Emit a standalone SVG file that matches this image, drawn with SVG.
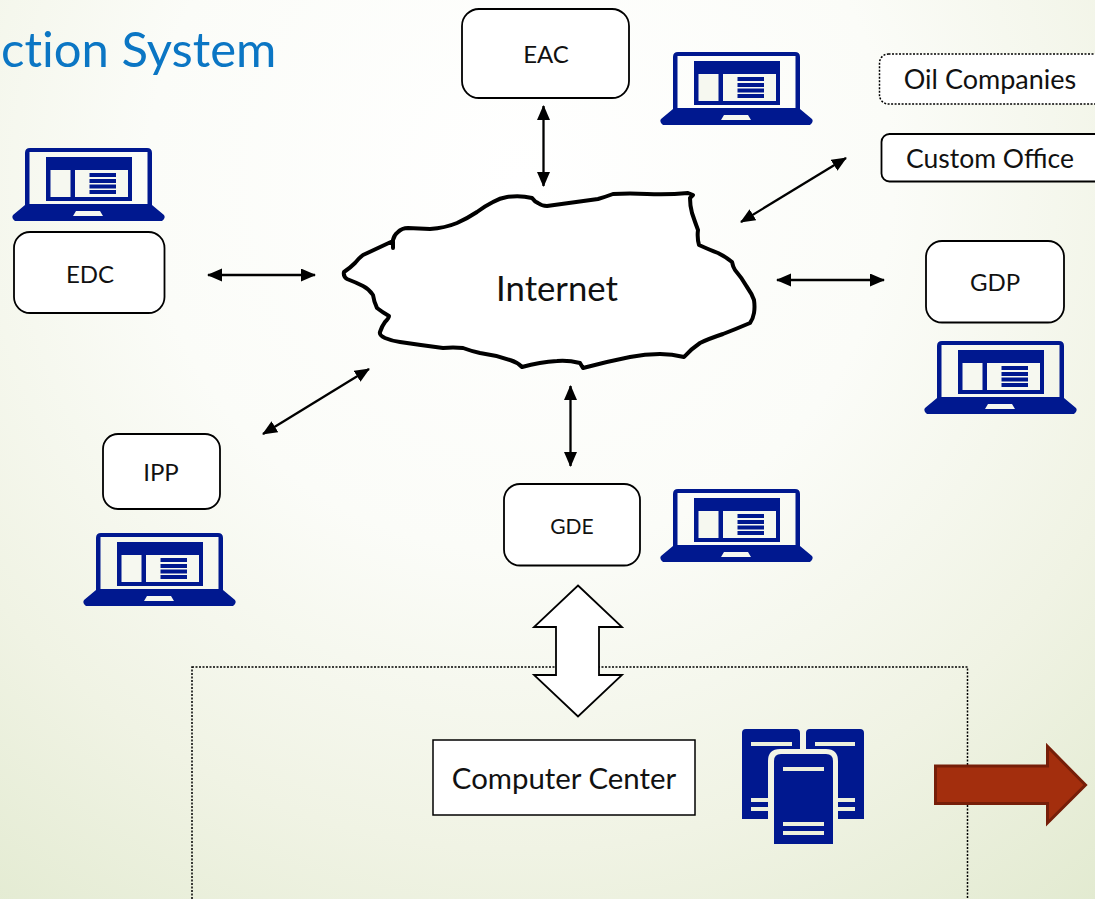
<svg xmlns="http://www.w3.org/2000/svg" width="1095" height="899" viewBox="0 0 1095 899">
<style>
text{font-family:"Lato","Open Sans","Liberation Sans",sans-serif;fill:#111;text-anchor:middle}
.box{fill:#fff;stroke:#000;stroke-width:1.8}
.dot{stroke-dasharray:2 1.500;stroke-width:1.500}
.con{fill:none;stroke:#000;stroke-width:2.300;marker-start:url(#ah);marker-end:url(#ah)}
.ic{fill:#00188f}
</style>
<defs>
<radialGradient id="bg" gradientUnits="userSpaceOnUse" cx="520" cy="180" r="930">
<stop offset="0" stop-color="#fff"/><stop offset="0.4" stop-color="#fbfcf8"/><stop offset="0.72" stop-color="#f0f3e4"/><stop offset="1" stop-color="#e2ead0"/>
</radialGradient>
<marker id="ah" markerUnits="userSpaceOnUse" markerWidth="16" markerHeight="14" refX="14" refY="6.500" orient="auto-start-reverse"><path d="M0 0L15 6.500L0 13Z" fill="#000"/></marker>
<symbol id="laptop" width="153" height="74" viewBox="0 0 153 74" overflow="visible">
<path class="ic" fill-rule="evenodd" d="M13 58V6Q13 1 18 1H135Q140 1 140 6V58L152 68Q154 71 150 74H3Q-1 71 1 68ZM17.500 5V57H135.500V5Z"/>
<path class="ic" d="M34 10H120V54H34Z"/>
<path fill="#f6f8f0" d="M38.500 23H58.500V50H38.500ZM63 23H116V50H63Z"/>
<path class="ic" d="M77.500 26H104V30H77.500ZM77.500 32H104V36H77.500ZM77.500 37.500H104V41.500H77.500ZM77.500 43H104V47H77.500Z"/>
<path fill="#f6f8f0" d="M64 64H88L91 69H61Z"/>
</symbol>
</defs>
<rect width="1095" height="899" fill="url(#bg)"/>
<text id="title" x="1" y="67" font-size="49" style="text-anchor:start;fill:#0b76c4;font-variant-ligatures:none">ction System</text>

<g id="computer-center-zone"><rect x="192" y="667" width="775.500" height="240" fill="none" stroke="#000" stroke-width="1.500" stroke-dasharray="2 1.500"/></g>

<g id="connectors">
<path class="con" d="M543.500 106V186"/>
<path class="con" d="M846 158L741 222"/>
<path class="con" d="M208 275H315"/>
<path class="con" d="M777 280H884"/>
<path class="con" d="M369 369L263 434"/>
<path class="con" d="M570.500 386V466"/>
</g>

<g id="internet">
<path fill="#fff" stroke="#000" stroke-width="4" stroke-linejoin="round" stroke-linecap="round" d="M393 248L393 240Q394 235 398 232Q402 228 408 228L430 229Q445 228 457 223Q468 218 477 212Q485 206 493 202Q500 198 507 197Q520 195 532 198Q535 202 538 203Q542 206 547 206L598 199Q605 197 613 194Q630 193 647 194Q668 195 688 193L693 195L690 198Q690 206 692 213Q695 222 698 230Q697 238 699 245Q710 250 718 253Q726 257 732 262Q733 267 735 270Q742 278 747 287Q752 294 754 300Q755 307 754 313Q753 319 750 323Q736 329 723 334Q708 339 700 343Q691 349 684 357Q672 354 660 354Q645 354 630 357Q605 362 583 368L580 363Q568 360 557 361Q540 362 522 367Q517 362 510 360Q495 355 480 353Q471 351 463 348Q453 347 443 348Q420 345 400 342Q392 341 385 338Q379 335 380 332Q382 326 385 322Q389 318 389 316Q382 312 377 308Q374 302 373 295Q369 289 363 286Q355 282 347 279Q343 276 344 272Q350 268 355 263Q359 258 363 255Q378 248 393 241"/>
<text x="557" y="301" font-size="34.700">Internet</text>
</g>

<g id="eac"><rect class="box" x="462" y="9" width="167" height="89" rx="17"/><text x="546" y="63" font-size="24">EAC</text></g>
<g id="eac-laptop"><use href="#laptop" x="660" y="51"/></g>
<g id="oil"><rect class="box dot" x="879.500" y="54" width="230" height="50" rx="9"/><text x="990" y="89" font-size="27">Oil Companies</text></g>
<g id="custom"><rect class="box" x="881.500" y="134" width="230" height="47.500" rx="8"/><text x="990" y="168" font-size="26.500">Custom Office</text></g>
<g id="edc"><rect class="box" x="14" y="232" width="150.500" height="81" rx="16"/><text x="90" y="283" font-size="24">EDC</text></g>
<g id="edc-laptop"><use href="#laptop" x="12" y="147"/></g>
<g id="gdp"><rect class="box" x="926" y="241" width="138" height="81.500" rx="16"/><text x="995" y="291" font-size="24">GDP</text></g>
<g id="gdp-laptop"><use href="#laptop" x="924" y="340"/></g>
<g id="ipp"><rect class="box" x="103" y="434" width="117" height="75" rx="15"/><text x="161" y="481" font-size="24">IPP</text></g>
<g id="ipp-laptop"><use href="#laptop" x="83" y="532"/></g>
<g id="gde"><rect class="box" x="504" y="484" width="136" height="81.500" rx="16"/><text x="572" y="534" font-size="21">GDE</text></g>
<g id="gde-laptop"><use href="#laptop" x="660" y="488"/></g>

<g id="double-arrow"><path fill="#fff" stroke="#000" stroke-width="1.800" d="M578 585.500L622 627H599V675H622L578 716.500L534 675H556V627H534Z"/></g>

<g id="computer-center"><rect x="433" y="740" width="262" height="75" fill="#fff" stroke="#000" stroke-width="1.500"/><text x="564" y="789" font-size="29.400">Computer Center</text></g>

<g id="servers">
<path class="ic" d="M742 733Q742 729 746 729H796Q800 729 800 733V749H780Q768 749 768 761V819H742Z"/>
<path class="ic" d="M806 733Q806 729 810 729H860Q864 729 864 733V819H838V761Q838 749 826 749H806Z"/>
<path class="ic" d="M774 761Q774 754 781 754H826Q833 754 833 761V844H774Z"/>
<path fill="#ecf0dd" d="M751 742H792V746H751ZM815 742H855V746H815ZM751 798H768V802H751ZM751 807H768V811H751ZM838 798H855V802H838ZM838 807H855V811H838ZM783 767H824V771H783ZM783 822H824V826H783ZM783 831H824V835H783Z"/>
</g>

<g id="red-arrow"><path fill="#a32e0d" stroke="#761e08" stroke-width="3" d="M935.500 766H1047.500V746.500L1085.500 785L1047.500 823V803.500H935.500Z"/></g>
</svg>
